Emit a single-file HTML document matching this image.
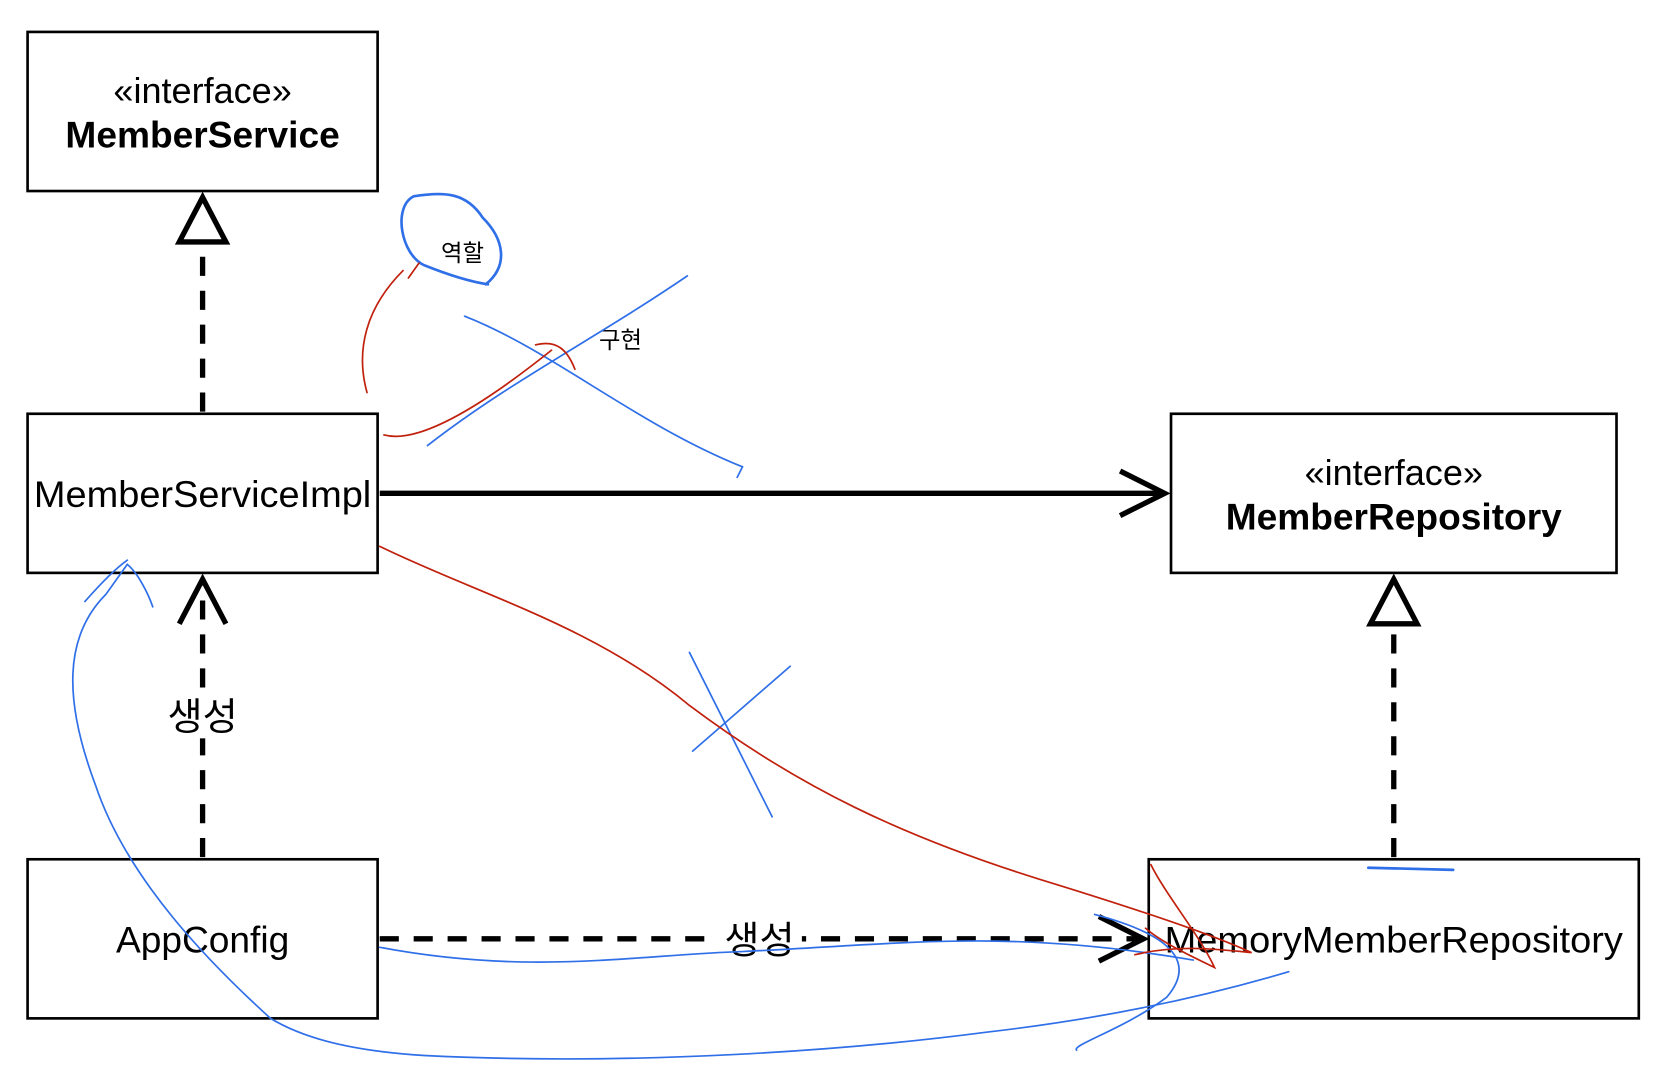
<!DOCTYPE html>
<html><head><meta charset="utf-8"><style>html,body{margin:0;padding:0;background:#fff}svg{display:block}</style></head>
<body>
<svg width="1660" height="1080" viewBox="0 0 1565 1018" xmlns="http://www.w3.org/2000/svg" font-family="Liberation Sans, Noto Sans CJK KR, sans-serif">
<rect width="1565" height="1018" fill="#fff"/>
<g fill="none" stroke="#000" stroke-width="2.5">
<rect x="26" y="30" width="330" height="150"/>
<rect x="26" y="390" width="330" height="150"/>
<rect x="26" y="810" width="330" height="150"/>
<rect x="1104" y="390" width="420" height="150"/>
<rect x="1083" y="810" width="462" height="150"/>
</g>
<g stroke="#000" stroke-width="5" fill="none">
<line x1="191" y1="388" x2="191" y2="228" stroke-dasharray="18,14"/>
<polygon points="191,186 169,228 213,228" fill="#fff"/>
<line x1="191" y1="808" x2="191" y2="550" stroke-dasharray="18,14"/>
<polyline points="169,588 191,546 213,588"/>
<line x1="1314" y1="808" x2="1314" y2="590" stroke-dasharray="18,14"/>
<polygon points="1314,546 1292,588 1336,588" fill="#fff"/>
<line x1="358" y1="465" x2="1098" y2="465"/>
<polyline points="1056,444 1098,465 1056,486"/>
<line x1="358" y1="885" x2="1076" y2="885" stroke-dasharray="18,14"/>
<polyline points="1036,864 1078,885 1036,906"/>
</g>
<g text-anchor="middle" fill="#000">
<text x="191" y="97" font-size="34">«interface»</text>
<text x="191" y="139" font-size="35" font-weight="bold">MemberService</text>
<text x="191" y="478" font-size="35" textLength="318" lengthAdjust="spacingAndGlyphs">MemberServiceImpl</text>
<text x="191" y="898" font-size="35">AppConfig</text>
<text x="1314" y="457" font-size="34">«interface»</text>
<text x="1314" y="499" font-size="35" font-weight="bold">MemberRepository</text>
<text x="1314" y="898" font-size="35" textLength="432" lengthAdjust="spacingAndGlyphs">MemoryMemberRepository</text>
<rect x="150" y="652" width="80" height="44" fill="#fff"/>
<text x="191" y="688" font-size="36">생성</text>
<rect x="676" y="865" width="80" height="40" fill="#fff"/>
<text x="716" y="899" font-size="36">생성</text>
<text x="436" y="246" font-size="22">역할</text>
<text x="585" y="328" font-size="22">구현</text>
</g>
<g fill="none" stroke="#2f6fe8" stroke-width="2.5" stroke-linecap="round">
<path d="M458,268 C480,250 475,225 455,205 C440,182 420,180 390,185 C370,195 378,240 400,250 C420,258 440,265 460,268"/>
<path d="M1290,818 L1370,820"/>
</g>
<g fill="none" stroke="#2f6fe8" stroke-width="1.6" stroke-linecap="round">
<path d="M403,420 C480,360 560,320 648,260"/>
<path d="M438,298 C520,330 600,400 700,440 L695,450"/>
<path d="M650,615 L728,770"/>
<path d="M653,708 L745,628"/>
<path d="M358,893 C500,920 600,900 700,897 C850,890 950,875 1125,905"/>
<path d="M1032,862 C1100,880 1130,905 1100,940 C1060,970 1010,985 1015,990"/>
<path d="M1215,916 C1100,950 1000,965 930,973 C800,990 600,1005 400,995 C320,990 280,975 255,960 C200,910 120,830 90,740 C60,660 60,600 100,560 L120,532 C130,540 140,560 144,572"/>
<path d="M80,567 C95,550 110,535 120,528"/>
</g>
<g fill="none" stroke="#c0200c" stroke-width="1.6" stroke-linecap="round">
<path d="M346,370 C335,330 345,290 380,255"/>
<path d="M385,262 L395,248"/>
<path d="M362,410 C400,420 470,370 520,330 M505,325 C525,320 535,330 542,348"/>
<path d="M358,515 C450,560 560,590 650,665 C750,740 850,790 1000,835 C1080,860 1140,880 1180,898 C1150,895 1110,890 1070,900"/>
<path d="M1085,815 C1100,845 1130,880 1145,912 C1120,900 1095,888 1080,875"/>
</g>
</svg>
</body></html>
